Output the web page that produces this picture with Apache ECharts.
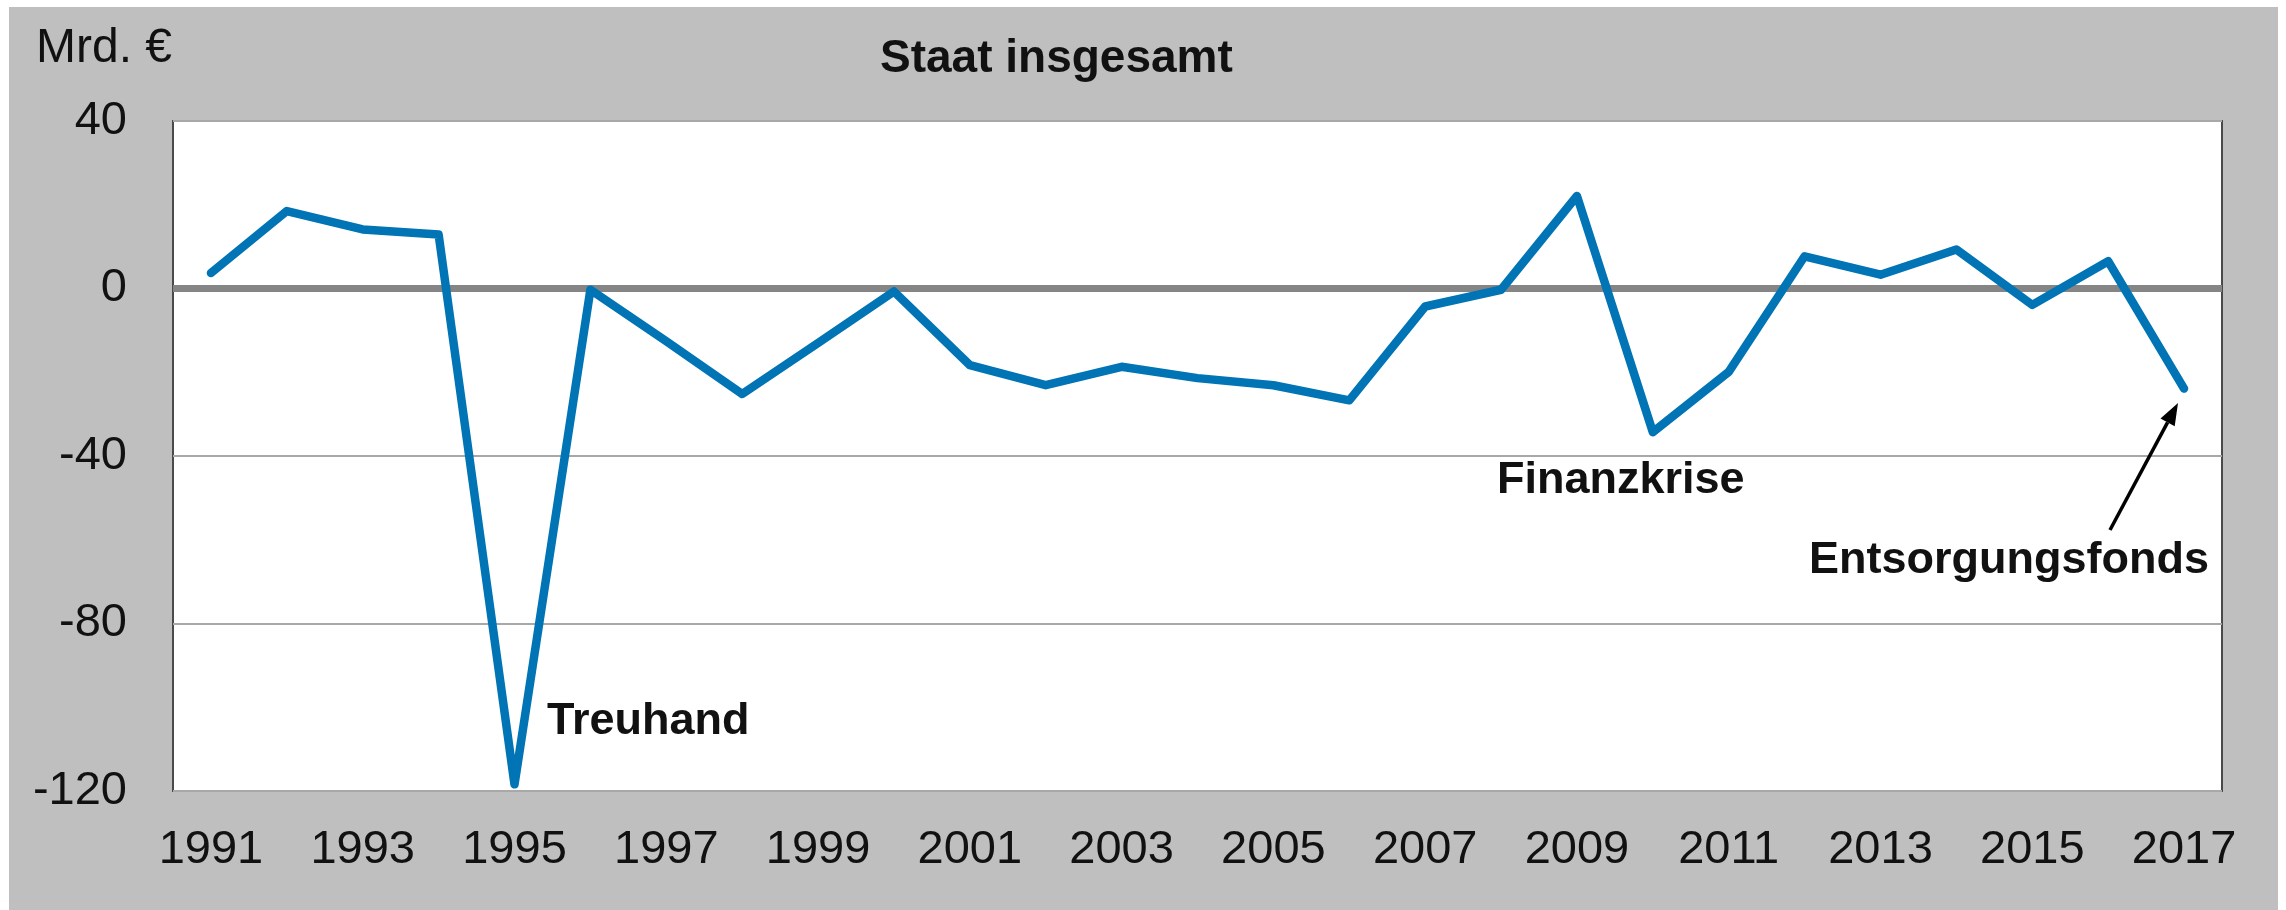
<!DOCTYPE html>
<html>
<head>
<meta charset="utf-8">
<script src="https://cdn.jsdelivr.net/npm/echarts@6/dist/echarts.min.js"></script>
<style>
  html, body { margin: 0; padding: 0; background: #fff; }
  #chart { position: absolute; left: 9px; top: 7px; width: 2269px; height: 903px; }
</style>
</head>
<body>
<div id="chart"></div>
<script>
// Jahre (Kategorien)
var years = ['1991', '1992', '1993', '1994', '1995', '1996', '1997', '1998', '1999', '2000',
  '2001', '2002', '2003', '2004', '2005', '2006', '2007', '2008', '2009', '2010',
  '2011', '2012', '2013', '2014', '2015', '2016', '2017'];
// Finanzierungssaldo Staat insgesamt, Mrd. €
var saldo = [3.7, 18.5, 14.1, 12.9, -118.4, -0.3, -12.6, -25.2, -13.0, -0.7,
  -18.3, -23.1, -18.7, -21.4, -23.1, -26.7, -4.3, -0.3, 22.1, -34.3,
  -19.9, 7.7, 3.3, 9.3, -3.9, 6.5, -23.9];
var yMin = -120, yMax = 40, yStep = 40;

var font = '"Liberation Sans", Arial, sans-serif';

var myChart = echarts.init(document.getElementById('chart'));

var option = {
  backgroundColor: '#bfbfbf',
  animation: false,
  textStyle: { fontFamily: font },
  title: [
    {
      text: 'Mrd. €',
      left: 22, top: 13,
      textStyle: { fontSize: 48, fontWeight: 'normal', color: '#111', fontFamily: font }
    },
    {
      text: 'Staat insgesamt',
      left: 866, top: 24,
      textStyle: { fontSize: 46, fontWeight: 'bold', color: '#111', fontFamily: font }
    }
  ],
  grid: {
    left: 164, top: 114, right: 56, bottom: 119,
    show: true,
    backgroundColor: '#fff',
    borderColor: '#4a4a4a',
    borderWidth: 2
  },
  xAxis: {
    type: 'category',
    data: years,
    boundaryGap: true,
    axisLine: { show: false },
    axisTick: { show: false },
    axisLabel: { interval: 1, fontSize: 47, color: '#111', margin: 36, fontFamily: font },
    splitLine: { show: false }
  },
  yAxis: {
    type: 'value',
    min: yMin, max: yMax, interval: yStep,
    axisLine: { show: false },
    axisTick: { show: false },
    axisLabel: { fontSize: 47, color: '#111', margin: 46, fontFamily: font },
    splitLine: { lineStyle: { color: '#a8a8a8', width: 2 } }
  },
  series: [
    {
      type: 'line',
      data: saldo,
      symbol: 'none',
      lineStyle: { color: '#0074b4', width: 8.5, join: 'round', cap: 'round' },
      z: 5,
      markLine: {
        silent: true,
        symbol: ['none', 'none'],
        label: { show: false },
        lineStyle: { color: '#858585', width: 7, type: 'solid' },
        data: [{ yAxis: 0 }],
        z: 3
      }
    }
  ],
  graphic: [
    {
      type: 'text', left: 538, top: 692, z: 10,
      style: { text: 'Treuhand', fill: '#111', font: 'bold 45px ' + font }
    },
    {
      type: 'text', left: 1488, top: 451, z: 10,
      style: { text: 'Finanzkrise', fill: '#111', font: 'bold 45px ' + font }
    },
    {
      type: 'text', left: 1800, top: 531, z: 10,
      style: { text: 'Entsorgungsfonds', fill: '#111', font: 'bold 45px ' + font }
    },
    {
      type: 'line', z: 10,
      shape: { x1: 2101, y1: 523, x2: 2158.6, y2: 415.4 },
      style: { stroke: '#000', lineWidth: 3.5 }
    },
    {
      type: 'polygon', z: 10,
      shape: { points: [[2169, 396], [2165.7, 419.2], [2151.5, 411.6]] },
      style: { fill: '#000' }
    }
  ]
};

myChart.setOption(option);
</script>
</body>
</html>
